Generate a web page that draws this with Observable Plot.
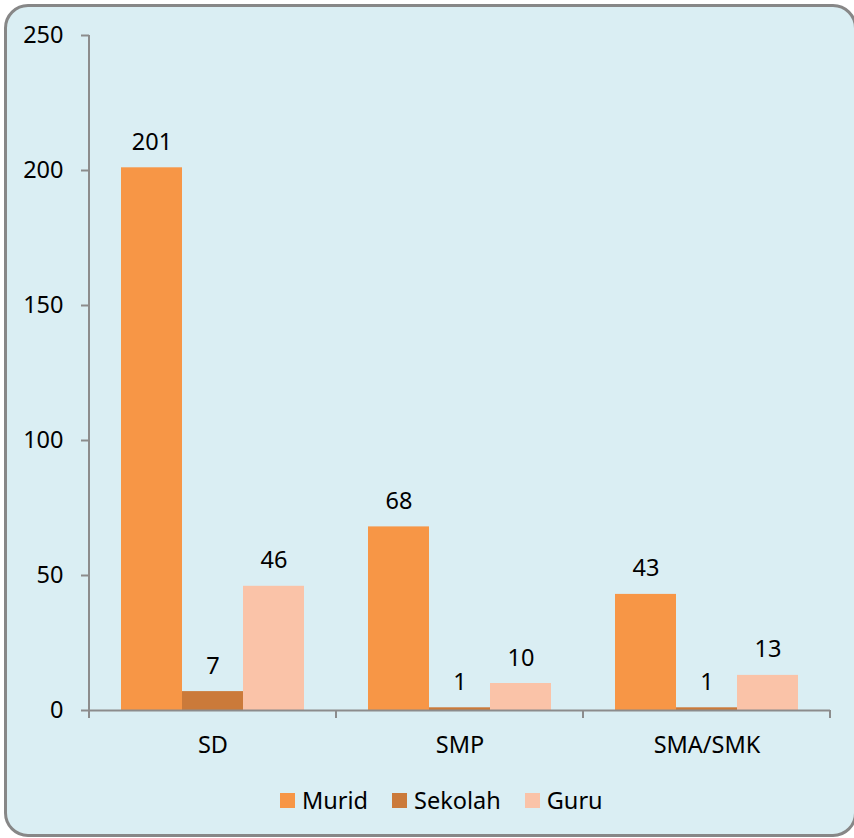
<!DOCTYPE html>
<html><head><meta charset="utf-8">
<script src="https://cdn.jsdelivr.net/npm/d3@7"></script>
<script src="https://cdn.jsdelivr.net/npm/@observablehq/plot@0.6"></script>
<style>
html,body{margin:0;padding:0;width:854px;height:838px;overflow:hidden;background:#fff;font-family:"Noto Sans",sans-serif;}
#box{position:absolute;left:4px;top:4px;width:847px;height:827px;border:3px solid #878787;border-radius:24px;background:#DAEEF3;}
#chart{position:absolute;left:0;top:0;}
#legend{position:absolute;left:280px;top:785px;height:30px;display:flex;align-items:center;font-size:23.5px;color:#000;}
.item{display:flex;align-items:center;margin-right:24px;}
.sw{width:15px;height:15px;margin-right:7px;}
</style></head>
<body>
<div id="box"></div>
<div id="chart"></div>
<div id="legend"></div>
<script>
const categories = ["SD", "SMP", "SMA/SMK"];
const series = ["Murid", "Sekolah", "Guru"];
const murid = [201, 68, 43];
const sekolah = [7, 1, 1];
const guru = [46, 10, 13];
const yTicks = [0, 50, 100, 150, 200, 250];
const colors = ["#F79646", "#CB7A3A", "#FAC3A8"];

const values = [murid, sekolah, guru];
const rows = categories.flatMap((c, i) => series.map((s, j) => ({category: c, series: s, value: values[j][i]})));

const axisGray = "#8c8c8c";
const fs = 23.5;
const plot = Plot.plot({
  width: 854, height: 770,
  marginLeft: 89, marginRight: 24, marginTop: 35, marginBottom: 60,
  style: {background: "transparent", fontFamily: "Noto Sans", fontSize: fs + "px", color: "#000", overflow: "visible"},
  fx: {domain: categories, padding: 0, label: null},
  x: {domain: series, paddingInner: 0, paddingOuter: 0.5, axis: null},
  y: {domain: [0, 250], label: null},
  color: {domain: series, range: colors},
  marks: [
    Plot.barY(rows, {fx: "category", x: "series", y: "value", fill: "series"}),
    Plot.text(rows, {fx: "category", x: "series", y: "value", text: d => String(d.value), lineAnchor: "bottom", dy: -18, fill: "#000", fontSize: fs}),
    Plot.ruleY([0], {stroke: axisGray, strokeWidth: 2}),
    Plot.axisY({ticks: yTicks, tickSize: 8, tickPadding: 18, stroke: axisGray, strokeWidth: 2, fill: "#000", fontSize: fs, label: null}),
    Plot.axisFx({anchor: "bottom", tickSize: 0, tickPadding: 26, fill: "#000", fontSize: fs, label: null})
  ]
});

const svg = plot.tagName.toLowerCase() === "svg" ? plot : plot.querySelector("svg");
const fxs = plot.scale("fx"), ys = plot.scale("y");
const y0 = ys.apply(0), yTop = ys.apply(250);
const g = d3.select(svg).append("g").attr("stroke", axisGray).attr("stroke-width", 2);
const left = fxs.apply(categories[0]);
g.append("line").attr("x1", left).attr("x2", left).attr("y1", yTop).attr("y2", y0 + 8);
const edges = categories.map(c => fxs.apply(c)).concat([fxs.apply(categories[categories.length - 1]) + fxs.bandwidth]);
g.selectAll("line.edge").data(edges).join("line").attr("class", "edge")
  .attr("x1", d => d).attr("x2", d => d).attr("y1", y0).attr("y2", y0 + 8);

document.getElementById("chart").appendChild(plot);

const legend = d3.select("#legend");
series.forEach((s, i) => {
  const it = legend.append("div").attr("class", "item");
  it.append("div").attr("class", "sw").style("background", colors[i]);
  it.append("span").text(s);
});
</script>
</body></html>
